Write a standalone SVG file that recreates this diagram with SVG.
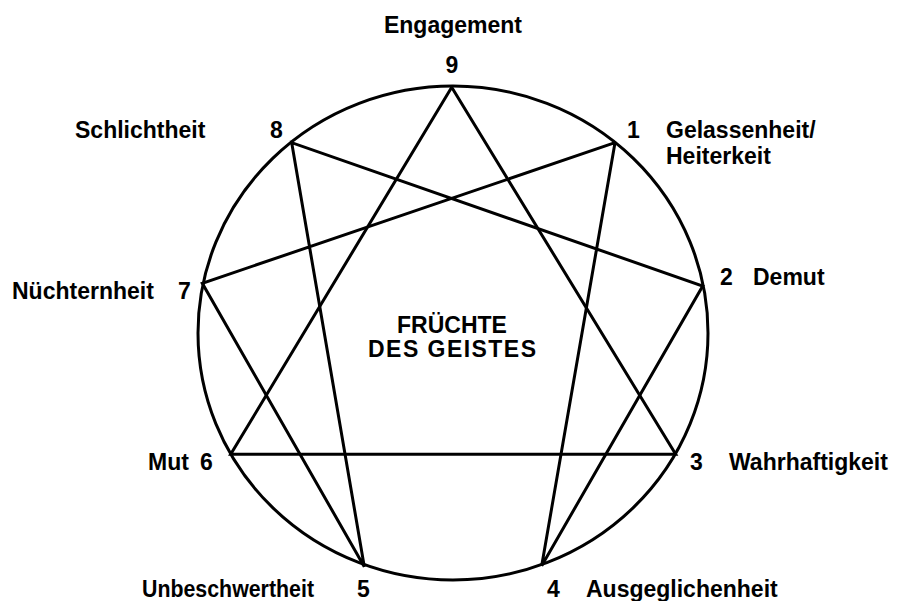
<svg xmlns="http://www.w3.org/2000/svg" width="899" height="601" viewBox="0 0 899 601">
<style>
.t{font-family:"Liberation Sans",Arial,sans-serif;font-weight:bold;font-size:23px;fill:#000}
.c{text-anchor:middle}
.ln{stroke:#000;stroke-width:3;fill:none;stroke-linecap:round}
</style>
<rect width="899" height="601" fill="#fff"/>
<g id="circle"><ellipse class="ln" cx="453" cy="333" rx="255" ry="247"/></g>
<g id="connectors">
<polyline class="ln" points="451.7,87.3 675.7,454.3 230.7,454.3 451.7,87.3"/>
<polyline class="ln" points="615,142.7 541.7,565.7 702.7,286 291.7,142.7 364.3,566.7 202.3,283.3 615,142.7"/>
</g>
<g id="n9"><text class="t c" x="453" y="33">Engagement</text><text class="t c" x="452" y="73">9</text></g>
<g id="n1"><text class="t" x="627" y="138">1</text><text class="t" x="666" y="138">Gelassenheit/</text><text class="t" x="666" y="164">Heiterkeit</text></g>
<g id="n2"><text class="t" x="720" y="285">2</text><text class="t" x="753" y="285">Demut</text></g>
<g id="n3"><text class="t" x="690" y="470">3</text><text class="t" x="729" y="470">Wahrhaftigkeit</text></g>
<g id="n4"><text class="t" x="547" y="597">4</text><text class="t" x="586" y="597">Ausgeglichenheit</text></g>
<g id="n5"><text class="t" x="357" y="597">5</text><text class="t" x="142" y="597" textLength="172" lengthAdjust="spacingAndGlyphs">Unbeschwertheit</text></g>
<g id="n6"><text class="t" x="200" y="470">6</text><text class="t" x="148" y="470">Mut</text></g>
<g id="n7"><text class="t" x="178" y="299">7</text><text class="t" x="12" y="299">Nüchternheit</text></g>
<g id="n8"><text class="t" x="270" y="138">8</text><text class="t" x="75" y="138">Schlichtheit</text></g>
<g id="center"><text class="t c" x="452" y="333">FRÜCHTE</text><text class="t c" x="452" y="357" textLength="168">DES GEISTES</text></g>
</svg>
